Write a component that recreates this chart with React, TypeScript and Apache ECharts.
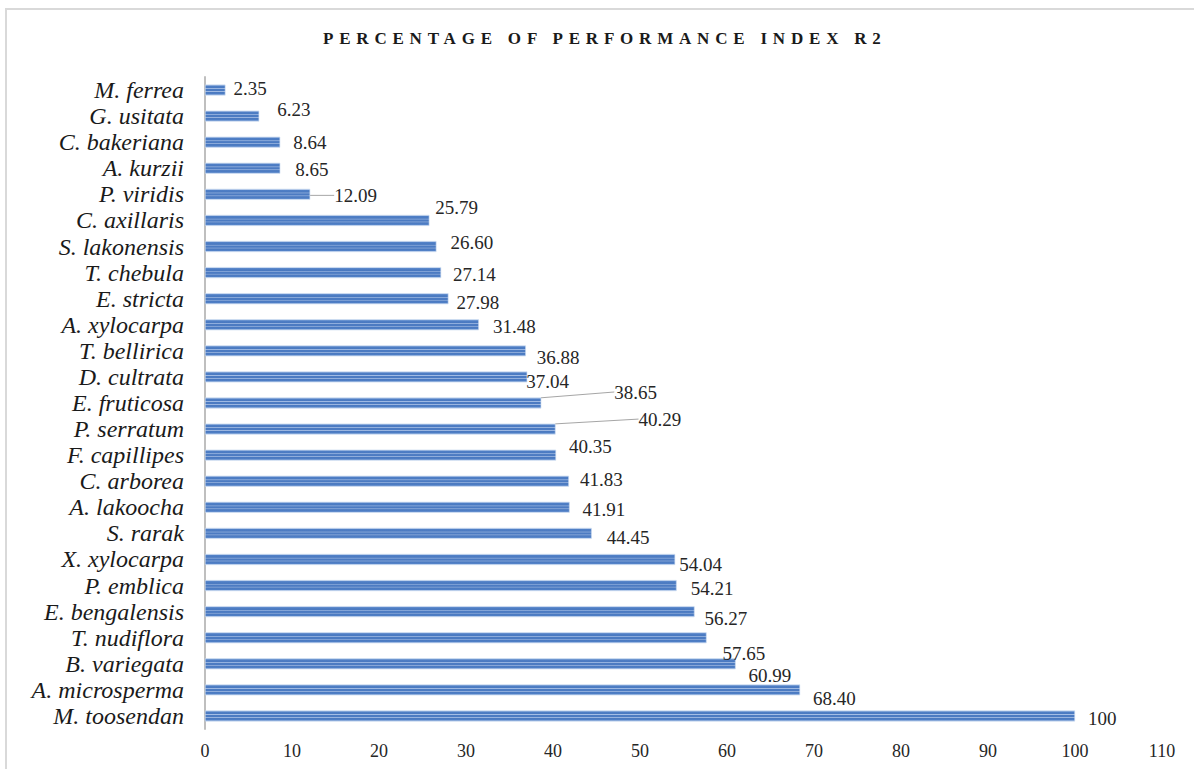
import React, { useEffect, useRef } from "react";
import * as echarts from "echarts";

const TITLE = "PERCENTAGE OF PERFORMANCE INDEX R2";

const categories = [
  "M. ferrea", "G. usitata", "C. bakeriana", "A. kurzii", "P. viridis",
  "C. axillaris", "S. lakonensis", "T. chebula", "E. stricta", "A. xylocarpa",
  "T. bellirica", "D. cultrata", "E. fruticosa", "P. serratum", "F. capillipes",
  "C. arborea", "A. lakoocha", "S. rarak", "X. xylocarpa", "P. emblica",
  "E. bengalensis", "T. nudiflora", "B. variegata", "A. microsperma", "M. toosendan",
];

const values = [
  2.35, 6.23, 8.64, 8.65, 12.09,
  25.79, 26.6, 27.14, 27.98, 31.48,
  36.88, 37.04, 38.65, 40.29, 40.35,
  41.83, 41.91, 44.45, 54.04, 54.21,
  56.27, 57.65, 60.99, 68.4, 100,
];

const xMin = 0;
const xMax = 110;
const xStep = 10;

// label displacement (layout only), per row, as in the original figure
const labelShift: [number, number][] = [
  [3, -2], [13, -7], [8, 0], [10, 1], [19, 1],
  [1, -13], [9, -4], [7, 2], [3, 4], [9, 2],
  [6, 7], [-6, 5], [68, -11], [78, -10], [8, -9],
  [6, -2], [8, 2], [10, 4], [-1, 5], [9, 3],
  [5, 7], [11, 16], [8, 12], [8, 9], [8, 3],
];
const leaderRows = [4, 12, 13];

const SERIF = "'Liberation Serif', 'Times New Roman', 'DejaVu Serif', serif";

const fmt = (v: number) => (Number.isInteger(v) ? String(v) : v.toFixed(2));

export default function App() {
  const ref = useRef<HTMLDivElement>(null);

  useEffect(() => {
    if (!ref.current) return;
    const chart = echarts.init(ref.current, undefined, { renderer: "svg" });

    const stripe = new echarts.graphic.LinearGradient(0, 0, 0, 1, [
      { offset: 0, color: "#a9c1e6" },
      { offset: 0.12, color: "#4f7fc6" },
      { offset: 0.3, color: "#4a79c0" },
      { offset: 0.36, color: "#a4bee6" },
      { offset: 0.44, color: "#4c7bc2" },
      { offset: 0.58, color: "#4c7bc2" },
      { offset: 0.64, color: "#9fb9e2" },
      { offset: 0.72, color: "#4a79c0" },
      { offset: 0.88, color: "#4f7fc6" },
      { offset: 1, color: "#a9c1e6" },
    ]);

    const data = values.map((v, i) => ({
      value: v,
      labelLine: { show: leaderRows.includes(i) },
    }));

    chart.setOption({
      animation: false,
      backgroundColor: "#ffffff",
      title: {
        text: TITLE,
        left: 318,
        top: 25,
        textStyle: {
          fontFamily: SERIF,
          fontWeight: "bold",
          fontSize: 17,
          color: "#1a1a1a",
        },
      },
      graphic: [
        {
          type: "rect",
          silent: true,
          shape: { x: 6, y: 9, width: 1200, height: 800 },
          style: { fill: "none", stroke: "#d9d9d9", lineWidth: 2 },
        },
      ],
      grid: { left: 205, right: 32, top: 77, bottom: 40, containLabel: false },
      xAxis: {
        type: "value",
        min: xMin,
        max: xMax,
        interval: xStep,
        axisLine: { show: false },
        axisTick: { show: false },
        splitLine: { show: false },
        axisLabel: {
          fontFamily: SERIF,
          fontSize: 18,
          color: "#262626",
          margin: 13,
        },
      },
      yAxis: {
        type: "category",
        data: categories,
        inverse: true,
        axisLine: { show: true, lineStyle: { color: "#bfbfbf", width: 2 } },
        axisTick: { show: false },
        splitLine: { show: false },
        axisLabel: {
          interval: 0,
          fontFamily: SERIF,
          fontStyle: "italic",
          fontSize: 24,
          color: "#1a1a1a",
          margin: 21,
        },
      },
      series: [
        {
          type: "bar",
          data,
          barWidth: 11,
          itemStyle: { color: stripe, borderColor: "#c6d6ef", borderWidth: 0.6 },
          label: {
            show: true,
            position: "right",
            distance: 5,
            fontFamily: SERIF,
            fontSize: 19,
            color: "#262626",
            formatter: (p: any) => fmt(p.value),
          },
          labelLine: {
            show: false,
            lineStyle: { color: "#a6a6a6", width: 1 },
          },
          labelLayout: (p: any) => {
            const s = labelShift[p.dataIndex] || [0, 0];
            return { dx: s[0], dy: s[1] };
          },
        },
      ],
    });

    const applySpacing = () => {
      if (!ref.current) return;
      ref.current.querySelectorAll("text").forEach((t) => {
        if (t.textContent === TITLE) {
          t.setAttribute("letter-spacing", "5.8");
          t.style.letterSpacing = "5.8px";
        }
      });
    };
    applySpacing();
    const raf = requestAnimationFrame(applySpacing);

    return () => {
      cancelAnimationFrame(raf);
      chart.dispose();
    };
  }, []);

  return (
    <div
      ref={ref}
      style={{
        position: "fixed",
        left: 0,
        top: 0,
        width: 1194,
        height: 769,
        background: "#fff",
      }}
    />
  );
}
